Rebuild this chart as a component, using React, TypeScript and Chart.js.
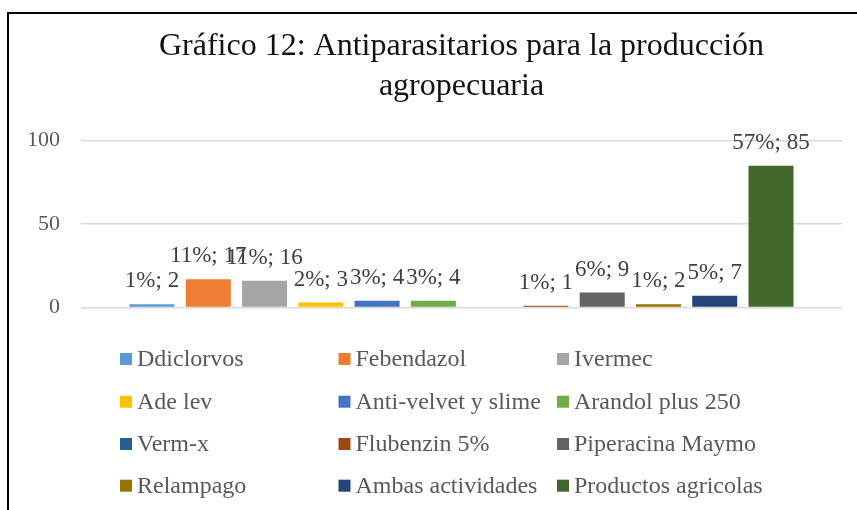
import React, { useEffect, useRef } from "react";
import { Chart, registerables } from "chart.js";

Chart.register(...registerables);

const titleLines = ["Gráfico 12: Antiparasitarios para la producción", "agropecuaria"];
const categories = [""];
const seriesNames = [
  "Ddiclorvos",
  "Febendazol",
  "Ivermec",
  "Ade lev",
  "Anti-velvet y slime",
  "Arandol plus 250",
  "Verm-x",
  "Flubenzin 5%",
  "Piperacina Maymo",
  "Relampago",
  "Ambas actividades",
  "Productos agricolas",
];
const seriesValues: (number | null)[] = [2, 17, 16, 3, 4, 4, null, 1, 9, 2, 7, 85];
const seriesPercents = ["1%", "11%", "11%", "2%", "3%", "3%", "", "1%", "6%", "1%", "5%", "57%"];
const seriesColors = [
  "#5B9BD5",
  "#ED7D31",
  "#A5A5A5",
  "#FFC000",
  "#4472C4",
  "#70AD47",
  "#255E91",
  "#9E480E",
  "#636363",
  "#997300",
  "#264478",
  "#43682B",
];
const yMin = 0;
const yMax = 100;
const yStep = 50;

const FONT = "'Liberation Serif', 'Times New Roman', serif";

const borderPlugin = {
  id: "frameBorder",
  beforeDraw(chart: any) {
    const ctx = chart.ctx;
    ctx.save();
    ctx.fillStyle = "#ffffff";
    ctx.fillRect(0, 0, chart.width, chart.height);
    ctx.fillStyle = "#000000";
    ctx.fillRect(7, 12, 2, chart.height - 12);
    ctx.fillRect(7, 12, chart.width - 7, 2);
    ctx.restore();
  },
};

const dataLabelPlugin = {
  id: "dataLabels",
  afterDatasetsDraw(chart: any) {
    const ctx = chart.ctx;
    ctx.save();
    ctx.font = `23px ${FONT}`;
    ctx.fillStyle = "#404040";
    ctx.textAlign = "center";
    ctx.textBaseline = "middle";
    chart.data.datasets.forEach((ds: any, i: number) => {
      const v = ds.data[0];
      if (v === null || v === undefined) return;
      const el = chart.getDatasetMeta(i).data[0];
      if (!el) return;
      ctx.fillText(`${seriesPercents[i]}; ${v}`, el.x, el.y - 23);
    });
    ctx.restore();
  },
};

const legendPlugin = {
  id: "gridLegend",
  afterDraw(chart: any) {
    const ctx = chart.ctx;
    const colX = [120, 338.5, 557];
    const rowY = [359, 401.7, 444, 485.7];
    ctx.save();
    ctx.font = `24px ${FONT}`;
    ctx.textAlign = "left";
    ctx.textBaseline = "middle";
    chart.data.datasets.forEach((ds: any, i: number) => {
      const col = i % 3;
      const row = Math.floor(i / 3);
      const x = colX[col];
      const y = rowY[row];
      ctx.fillStyle = ds.backgroundColor;
      ctx.fillRect(x, y - 6, 12, 12);
      ctx.fillStyle = "#595959";
      ctx.fillText(ds.label, x + 17, y + 1);
    });
    ctx.restore();
  },
};

export default function App() {
  const canvasRef = useRef<HTMLCanvasElement | null>(null);

  useEffect(() => {
    if (!canvasRef.current) return;
    const chart = new Chart(canvasRef.current, {
      type: "bar",
      data: {
        labels: categories,
        datasets: seriesNames.map((name, i) => ({
          label: name,
          data: [seriesValues[i]],
          backgroundColor: seriesColors[i],
          borderWidth: 0,
          categoryPercentage: 0.8874,
          barPercentage: 0.8,
        })),
      },
      options: {
        responsive: false,
        animation: false,
        devicePixelRatio: 1,
        layout: { padding: { top: 0, left: 0, right: 15, bottom: 202.5 } },
        plugins: {
          legend: { display: false },
          tooltip: { enabled: false },
          title: {
            display: true,
            text: titleLines,
            fullSize: false,
            color: "#111111",
            font: { family: FONT, size: 32, weight: "normal", lineHeight: 40 / 32 },
            padding: { top: 27, bottom: 33.7 },
          },
        },
        scales: {
          x: {
            display: false,
            grid: { display: false },
          },
          y: {
            min: yMin,
            max: yMax,
            afterFit(scale: any) {
              scale.width = 81;
            },
            ticks: {
              stepSize: yStep,
              color: "#595959",
              font: { family: FONT, size: 22 },
              padding: 21,
            },
            grid: { color: "#d9d9d9", lineWidth: 1.5, drawTicks: false },
            border: { display: false },
          },
        },
      },
      plugins: [borderPlugin, dataLabelPlugin, legendPlugin],
    } as any);
    return () => chart.destroy();
  }, []);

  return (
    <div style={{ position: "absolute", left: 0, top: 0, width: 857, height: 510 }}>
      <canvas ref={canvasRef} width={857} height={510} style={{ width: 857, height: 510, display: "block" }} />
    </div>
  );
}
